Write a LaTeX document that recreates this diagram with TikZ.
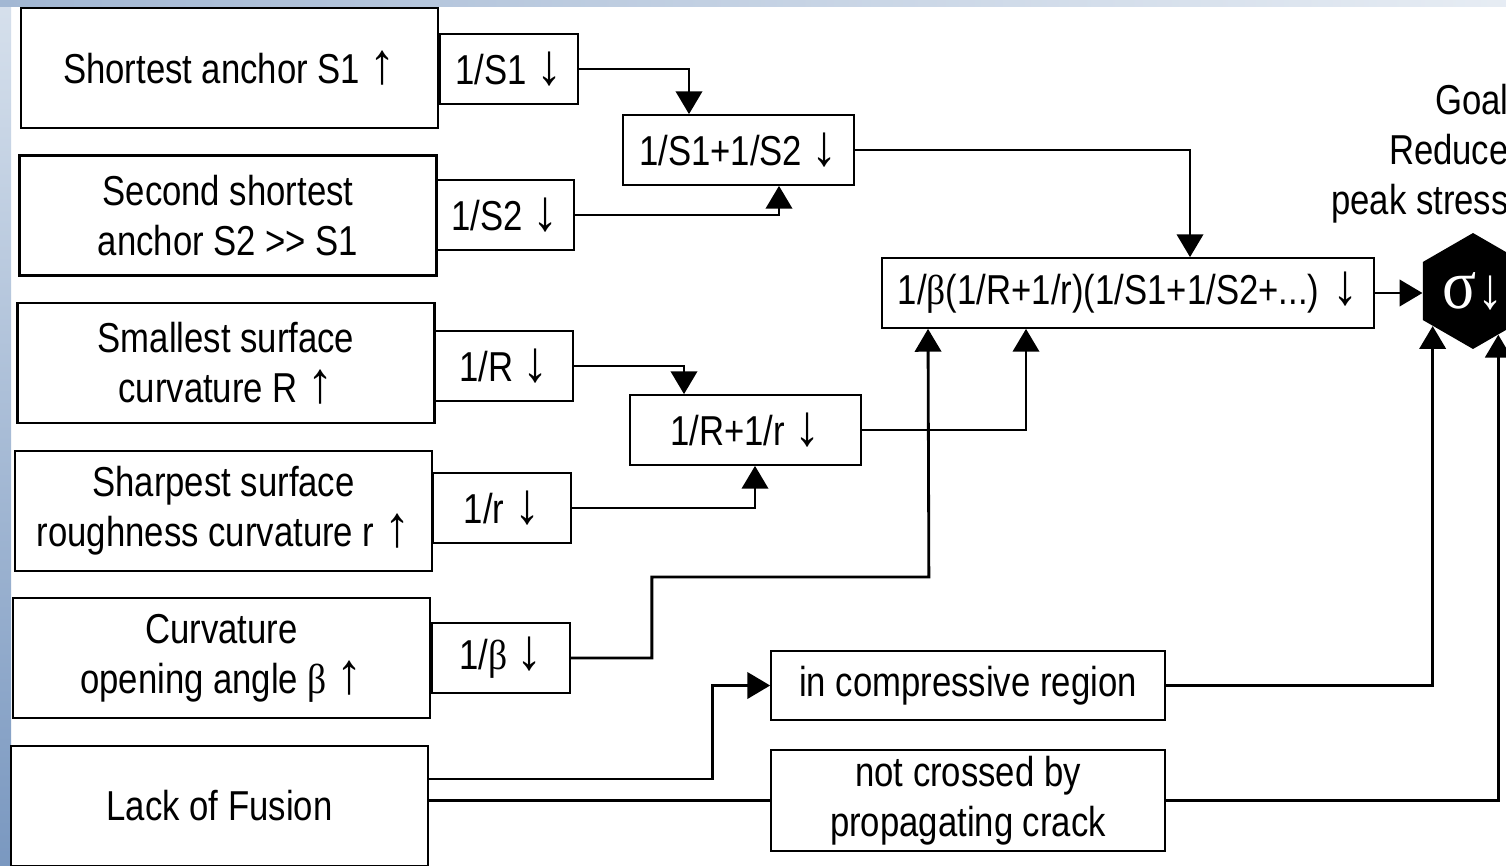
\documentclass[tikz,border=0pt]{standalone}
\usepackage{fontspec}
\setmainfont{Liberation Sans}[FakeStretch=0.83]
\newfontfamily\grk{Liberation Serif}[FakeStretch=0.9]
\usetikzlibrary{arrows.meta,calc,shapes.geometric}
\definecolor{ink}{RGB}{0,0,0}
\definecolor{slideblue}{RGB}{122,152,192}
\definecolor{slidepale}{RGB}{214,224,236}
\newcommand\upar{{\grk\fontsize{33pt}{27.8pt}\selectfont ↑}}
\newcommand\dnar{{\grk\fontsize{33pt}{27.8pt}\selectfont ↓}}
\tikzset{
  cause/.style={draw=ink,line width=1.6pt,align=center,minimum width=8.34cm,minimum height=2.4cm,inner sep=0pt},
  inv/.style={draw=ink,line width=1pt,align=center,minimum width=2.76cm,minimum height=1.4cm,inner sep=0pt},
  combo/.style={inv,minimum width=#1},
  flow/.style={-{Triangle[length=13pt,width=15pt]},line width=1.6pt,draw=ink},
  wire/.style={line width=1.6pt,draw=ink},
  goal/.style={regular polygon,regular polygon sides=6,shape border rotate=30,fill=ink,
    minimum size=2.32cm,inner sep=0pt,text=white,font=\fontsize{40pt}{40pt}\selectfont},
}
\begin{document}
\begin{tikzpicture}[x=0.02cm,y=-0.02cm,font=\fontsize{23.8pt}{28.5pt}\selectfont]
  \useasboundingbox (0,0) rectangle (1506,865);
  \clip (0,0) rectangle (1506,865);
  % slide background
  \fill[white] (0,0) rectangle (1506,865);
  \shade[top color=slidepale,bottom color=slideblue] (0,0) rectangle (11,865);
  \shade[left color=slideblue!70,right color=slidepale!60] (0,0) rectangle (1506,7);

  % causes
  \node[cause] (anc1) at (229.5,68) {Shortest anchor S1 \upar};
  \node[cause] (anc2) at (228,215.5) {Second shortest\\anchor S2 >{}> S1};
  \node[cause] (curR) at (226,363) {Smallest surface\\curvature R \upar};
  \node[cause] (curr) at (223.5,511) {Sharpest surface\\roughness curvature r \upar};
  \node[cause] (angb) at (221.5,658) {Curvature\\opening angle {\grk β} \upar};
  \node[cause] (lof) at (219.5,806) {Lack of Fusion};

  % inverses
  \node[inv] (s1) at (509,69) {1/S1 \dnar};
  \node[inv] (s2) at (505,215) {1/S2 \dnar};
  \node[inv] (r1) at (504,366) {1/R \dnar};
  \node[inv] (r2) at (502,508) {1/r \dnar};
  \node[inv] (b1) at (501,658) {1/{\grk β} \dnar};

  % sums and product
  \node[combo=4.62cm] (sumS) at (738.5,150) {1/S1+1/S2 \dnar};
  \node[combo=4.62cm] (sumR) at (745.5,430) {1/R+1/r \dnar};
  \node[combo=9.84cm] (prod) at (1128,293) {1/{\grk β}(1/R+1/r)(1/S1+1/S2+...) \dnar};
  \node[combo=7.88cm,minimum height=1.38cm] (comp) at (968,685.5) {in compressive region};
  \node[combo=7.88cm,minimum height=2.02cm] (cross) at (968,800.5) {not crossed by\\propagating crack};

  % goal
  \node[goal] (sig) at (1473,291) {{\grk σ}\dnar};
  \node[align=right,anchor=north east,inner sep=0pt] (goaltxt) at (1509,84) {Goal\\Reduce\\peak stress};

  \draw[flow] (s1.east) -| ($(sumS.north)+(-49.5,0)$);
  \draw[flow] (s2.east) -| ($(sumS.south)+(40.5,0)$);
  \draw[flow] (sumS.east) -| ($(prod.north)+(62,0)$);
  \draw[flow] (r1.east) -| ($(sumR.north)+(-61.5,0)$);
  \draw[flow] (r2.east) -| ($(sumR.south)+(9.5,0)$);
  \draw[flow] (sumR.east) -| ($(prod.south)+(-102,0)$);
  \draw[flow] (b1.east) -- ++(81,0) |- ++(277,-81) -- ($(prod.south)+(-200,0)$);
  \draw[flow] (prod.east) -- (prod.east -| sig.west);
  \draw[flow] ($(lof.east)+(0,-27)$) -- ++(283,0) |- (comp.west);
  \draw[wire] (cross.west -| lof.east) -- (cross.west);
  \draw[flow] (comp.east) -| (sig.-139);
  \draw[flow] (cross.east) -| (sig.-60);
\end{tikzpicture}
\end{document}
